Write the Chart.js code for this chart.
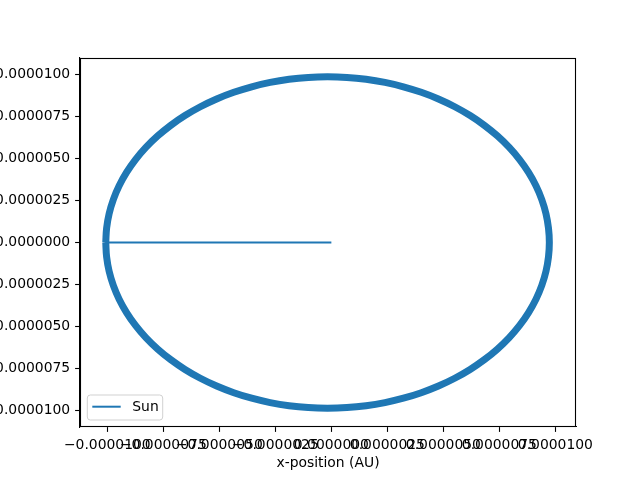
<!DOCTYPE html>
<html>
<head>
<meta charset="utf-8">
<script src="https://cdn.jsdelivr.net/npm/chart.js@4/dist/chart.umd.min.js"></script>
<style>
  html, body { margin: 0; padding: 0; background: #ffffff; }
  #wrap { width: 640px; height: 480px; }
</style>
</head>
<body>
<div id="wrap"><canvas id="c" width="640" height="480"></canvas></div>
<script>
// ---- Data (AU) ----
const seriesName = "Sun";
const xAxisTitle = "x-position (AU)";

// Sun's path: starts at the origin, then jumps to the orbit's left edge
const startX = [0.0, -10.07e-6];
const startY = [0.0, 0.0];

// Orbit traced around (many overlapping loops -> thick band)
const orbitX = [
  -10.07e-6, -10.032e-6, -9.92e-6, -9.733e-6, -9.473e-6, -9.142e-6, -8.743e-6, -8.28e-6, -7.753e-6,
  -7.17e-6, -6.534e-6, -5.848e-6, -5.12e-6, -4.354e-6, -3.556e-6, -2.732e-6, -1.889e-6, -1.033e-6,
  -0.17e-6, 0.693e-6, 1.549e-6, 2.392e-6, 3.216e-6, 4.014e-6, 4.78e-6, 5.508e-6, 6.194e-6,
  6.83e-6, 7.413e-6, 7.94e-6, 8.403e-6, 8.802e-6, 9.133e-6, 9.393e-6, 9.58e-6, 9.692e-6,
  9.73e-6,
  9.692e-6, 9.58e-6, 9.393e-6, 9.133e-6, 8.802e-6, 8.403e-6, 7.94e-6, 7.413e-6, 6.83e-6,
  6.194e-6, 5.508e-6, 4.78e-6, 4.014e-6, 3.216e-6, 2.392e-6, 1.549e-6, 0.693e-6,
  -0.17e-6, -1.033e-6, -1.889e-6, -2.732e-6, -3.556e-6, -4.354e-6, -5.12e-6, -5.848e-6, -6.534e-6,
  -7.17e-6, -7.753e-6, -8.28e-6, -8.743e-6, -9.142e-6, -9.473e-6, -9.733e-6, -9.92e-6, -10.032e-6,
  -10.07e-6
];
const orbitY = [
  0.0, 0.861e-6, 1.716e-6, 2.557e-6, 3.379e-6, 4.175e-6, 4.94e-6, 5.667e-6, 6.351e-6,
  6.986e-6, 7.568e-6, 8.093e-6, 8.556e-6, 8.954e-6, 9.284e-6, 9.543e-6, 9.73e-6, 9.843e-6,
  9.88e-6, 9.843e-6, 9.73e-6, 9.543e-6, 9.284e-6, 8.954e-6, 8.556e-6, 8.093e-6, 7.568e-6,
  6.986e-6, 6.351e-6, 5.667e-6, 4.94e-6, 4.175e-6, 3.379e-6, 2.557e-6, 1.716e-6, 0.861e-6,
  0.0,
  -0.861e-6, -1.716e-6, -2.557e-6, -3.379e-6, -4.175e-6, -4.94e-6, -5.667e-6, -6.351e-6, -6.986e-6,
  -7.568e-6, -8.093e-6, -8.556e-6, -8.954e-6, -9.284e-6, -9.543e-6, -9.73e-6, -9.843e-6,
  -9.88e-6, -9.843e-6, -9.73e-6, -9.543e-6, -9.284e-6, -8.954e-6, -8.556e-6, -8.093e-6, -7.568e-6,
  -6.986e-6, -6.351e-6, -5.667e-6, -4.94e-6, -4.175e-6, -3.379e-6, -2.557e-6, -1.716e-6, -0.861e-6,
  0.0
];

// Ticks
const xTickValues = [-10e-6, -7.5e-6, -5e-6, -2.5e-6, 0, 2.5e-6, 5e-6, 7.5e-6, 10e-6];
const xTickLabels = ["\u22120.0000100", "\u22120.0000075", "\u22120.0000050", "\u22120.0000025", "0.0000000",
                     "0.0000025", "0.0000050", "0.0000075", "0.0000100"];
const yTickValues = [-10e-6, -7.5e-6, -5e-6, -2.5e-6, 0, 2.5e-6, 5e-6, 7.5e-6, 10e-6];
const yTickLabels = ["\u22120.0000100", "\u22120.0000075", "\u22120.0000050", "\u22120.0000025", "0.0000000",
                     "0.0000025", "0.0000050", "0.0000075", "0.0000100"];

// Axis limits
const xMin = -11.22e-6, xMax = 10.92e-6;
const yMin = -11.0e-6, yMax = 11.0e-6;

// ---- Build chart ----
const blue = "#1f77b4";
const FONT = "DejaVu Sans";
const FS = 13.9;

const toPts = (xs, ys) => xs.map((x, i) => ({ x: x, y: ys[i] }));

const framePlugin = {
  id: 'frameAndLegend',
  afterDraw(chart) {
    const ctx = chart.ctx;
    const a = chart.chartArea;
    ctx.save();
    // axes frame (all four spines)
    ctx.strokeStyle = "#000000";
    ctx.lineWidth = 1.1;
    ctx.strokeRect(Math.round(a.left) + 0.5, Math.round(a.top) + 0.5,
                   Math.round(a.right - a.left) - 1, Math.round(a.bottom - a.top) - 1);
    // legend box, lower left inside axes
    const bx = a.left + 7.3, by = a.bottom - 32, bw = 75.4, bh = 25, r = 3;
    ctx.beginPath();
    ctx.moveTo(bx + r, by);
    ctx.lineTo(bx + bw - r, by);
    ctx.quadraticCurveTo(bx + bw, by, bx + bw, by + r);
    ctx.lineTo(bx + bw, by + bh - r);
    ctx.quadraticCurveTo(bx + bw, by + bh, bx + bw - r, by + bh);
    ctx.lineTo(bx + r, by + bh);
    ctx.quadraticCurveTo(bx, by + bh, bx, by + bh - r);
    ctx.lineTo(bx, by + r);
    ctx.quadraticCurveTo(bx, by, bx + r, by);
    ctx.closePath();
    ctx.fillStyle = "rgba(255,255,255,0.8)";
    ctx.fill();
    ctx.strokeStyle = "rgba(204,204,204,0.9)";
    ctx.lineWidth = 1;
    ctx.stroke();
    // legend handle
    const ly = by + 11.7;
    ctx.beginPath();
    ctx.moveTo(bx + 5, ly);
    ctx.lineTo(bx + 33.4, ly);
    ctx.strokeStyle = blue;
    ctx.lineWidth = 2;
    ctx.stroke();
    // legend text
    ctx.fillStyle = "#000000";
    ctx.font = FS + "px '" + FONT + "'";
    ctx.textBaseline = "middle";
    ctx.textAlign = "left";
    ctx.fillText(chart.data.datasets[0].label, bx + 45, ly + 0.5);
    ctx.restore();
  }
};

new Chart(document.getElementById('c'), {
  type: 'scatter',
  data: {
    datasets: [
      {
        label: seriesName,
        data: toPts(startX, startY),
        showLine: true,
        borderColor: blue,
        backgroundColor: blue,
        borderWidth: 1.8,
        pointRadius: 0,
        tension: 0
      },
      {
        label: seriesName + " orbit",
        data: toPts(orbitX, orbitY),
        showLine: true,
        borderColor: blue,
        backgroundColor: blue,
        borderWidth: 7,
        borderJoinStyle: 'round',
        pointRadius: 0,
        tension: 0.4
      }
    ]
  },
  options: {
    responsive: false,
    animation: false,
    events: [],
    layout: { padding: { left: 0, top: 58, right: 64, bottom: 0 } },
    plugins: {
      legend: { display: false },
      tooltip: { enabled: false },
      title: { display: false }
    },
    scales: {
      x: {
        type: 'linear',
        position: 'bottom',
        min: xMin,
        max: xMax,
        afterBuildTicks: (scale) => { scale.ticks = xTickValues.map(v => ({ value: v })); },
        afterFit: (scale) => { scale.height = 53; },
        ticks: {
          autoSkip: false,
          maxRotation: 0,
          minRotation: 0,
          padding: 4.9,
          color: "#000000",
          font: { family: FONT, size: FS },
          callback: (v, i) => xTickLabels[i]
        },
        grid: {
          drawOnChartArea: false,
          drawTicks: true,
          tickLength: 4.9,
          tickColor: "#000000",
          tickWidth: 1.1
        },
        border: { display: true, color: "#000000", width: 1.1 },
        title: {
          display: true,
          text: xAxisTitle,
          color: "#000000",
          font: { family: FONT, size: FS },
          padding: { top: 0, bottom: 8.5 }
        }
      },
      y: {
        type: 'linear',
        position: 'left',
        min: yMin,
        max: yMax,
        afterBuildTicks: (scale) => { scale.ticks = yTickValues.map(v => ({ value: v })); },
        afterFit: (scale) => { scale.width = 80; },
        ticks: {
          autoSkip: false,
          padding: 4.9,
          color: "#000000",
          font: { family: FONT, size: FS },
          callback: (v, i) => yTickLabels[i]
        },
        grid: {
          drawOnChartArea: false,
          drawTicks: true,
          tickLength: 4.9,
          tickColor: "#000000",
          tickWidth: 1.1
        },
        border: { display: true, color: "#000000", width: 1.1 }
      }
    }
  },
  plugins: [framePlugin]
});
</script>
</body>
</html>
